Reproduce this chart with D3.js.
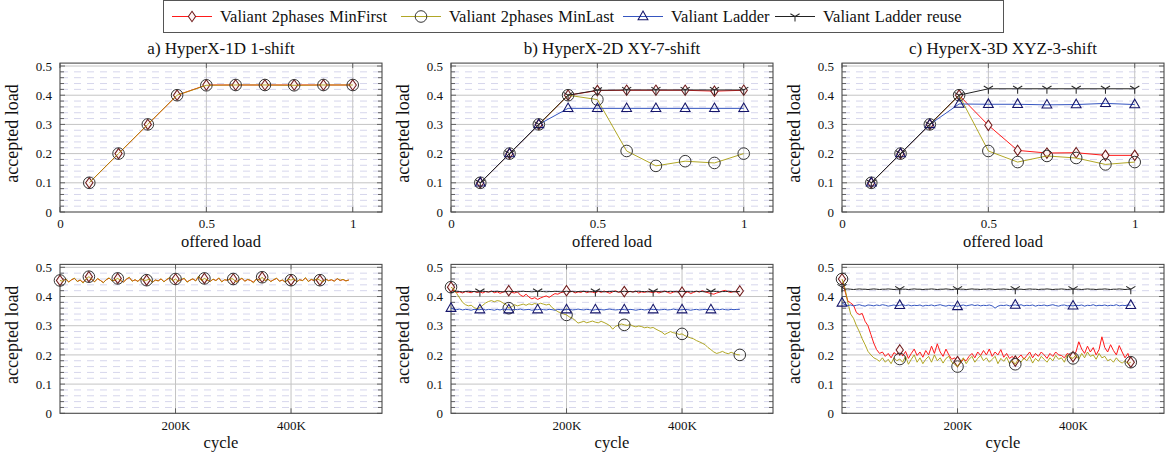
<!DOCTYPE html>
<html><head><meta charset="utf-8">
<script src="https://cdn.jsdelivr.net/npm/d3@7"></script>
<style>body{margin:0;background:#fff}svg{display:block}text{font-family:"Liberation Serif","Times New Roman",serif;fill:#111}</style>
</head><body><svg id="c" width="1168" height="459"></svg>
<script>
// ---------------- DATA ----------------
const seriesNames = ["Valiant 2phases MinFirst","Valiant 2phases MinLast","Valiant Ladder","Valiant Ladder reuse"];
const panelTitles = ["a) HyperX-1D 1-shift","b) HyperX-2D XY-7-shift","c) HyperX-3D XYZ-3-shift"];
const yTickValues = [0,0.1,0.2,0.3,0.4,0.5];
const yTickLabels = ["0","0.1","0.2","0.3","0.4","0.5"];
const xTopTickValues = [0,0.5,1];
const xTopTickLabels = ["0","0.5","1"];
const xBotTickValues = [200000,400000];
const xBotTickLabels = ["200K","400K"];

const offeredLoad = [0.1,0.2,0.3,0.4,0.5,0.6,0.7,0.8,0.9,1.0];
const aMinFirst = [0.1,0.2,0.3,0.4,0.435,0.435,0.435,0.435,0.435,0.435];
const aMinLast  = [0.1,0.2,0.3,0.4,0.434,0.435,0.435,0.434,0.435,0.435];
const bMinFirst = [0.1,0.2,0.3,0.4,0.416,0.417,0.417,0.417,0.414,0.417];
const bMinLast  = [0.1,0.2,0.3,0.4,0.385,0.209,0.158,0.174,0.168,0.200];
const bLadder   = [0.1,0.2,0.3,0.355,0.355,0.355,0.355,0.355,0.355,0.355];
const bLadderReuse = [0.1,0.2,0.3,0.4,0.417,0.418,0.418,0.418,0.418,0.418];
const cMinFirst = [0.1,0.2,0.3,0.4,0.297,0.211,0.202,0.203,0.194,0.194];
const cMinLast  = [0.1,0.2,0.3,0.4,0.209,0.171,0.192,0.185,0.163,0.171];
const cLadder   = [0.1,0.2,0.3,0.37,0.369,0.369,0.367,0.368,0.372,0.368];
const cLadderReuse = [0.1,0.2,0.3,0.4,0.422,0.422,0.422,0.422,0.422,0.422];

// time series: one sample every 5K cycles, 0 .. 500K
const cycleStep = 5000;
const aTMinFirst = [0.455,0.453,0.460,0.450,0.457,0.462,0.452,0.456,0.448,0.459,
 0.468,0.458,0.451,0.461,0.455,0.448,0.457,0.463,0.454,0.456,
 0.462,0.454,0.450,0.459,0.465,0.453,0.457,0.452,0.462,0.455,
 0.456,0.459,0.449,0.456,0.454,0.460,0.451,0.458,0.464,0.455,
 0.460,0.453,0.457,0.462,0.450,0.456,0.460,0.454,0.468,0.455,
 0.462,0.456,0.452,0.459,0.455,0.463,0.451,0.457,0.456,0.460,
 0.460,0.450,0.456,0.462,0.453,0.458,0.455,0.449,0.460,0.456,
 0.466,0.455,0.459,0.452,0.457,0.462,0.453,0.456,0.450,0.459,
 0.456,0.461,0.451,0.457,0.455,0.463,0.452,0.458,0.455,0.460,
 0.456,0.451,0.459,0.455,0.457,0.453,0.461,0.455,0.458,0.454,
 0.456];
const aTMinLast = [0.455,0.452,0.461,0.449,0.458,0.463,0.451,0.457,0.446,0.460,
 0.468,0.459,0.450,0.462,0.455,0.447,0.458,0.464,0.453,0.457,
 0.462,0.455,0.449,0.460,0.466,0.452,0.458,0.451,0.463,0.455,
 0.456,0.460,0.448,0.457,0.453,0.461,0.450,0.459,0.465,0.454,
 0.460,0.452,0.458,0.463,0.449,0.456,0.461,0.453,0.470,0.455,
 0.462,0.457,0.451,0.460,0.454,0.464,0.450,0.458,0.455,0.461,
 0.460,0.449,0.457,0.463,0.452,0.459,0.455,0.447,0.461,0.456,
 0.466,0.454,0.460,0.451,0.458,0.463,0.452,0.457,0.449,0.460,
 0.456,0.462,0.450,0.458,0.454,0.465,0.451,0.459,0.455,0.461,
 0.456,0.450,0.460,0.454,0.458,0.452,0.462,0.455,0.459,0.453,
 0.457];
const bTMinFirst = [0.432,0.418,0.414,0.416,0.412,0.417,0.415,0.413,0.418,0.414,
 0.416,0.412,0.417,0.415,0.419,0.413,0.416,0.411,0.415,0.418,
 0.420,0.414,0.412,0.416,0.405,0.400,0.408,0.398,0.392,0.396,
 0.390,0.395,0.399,0.402,0.397,0.404,0.410,0.408,0.413,0.416,
 0.420,0.415,0.418,0.412,0.416,0.414,0.419,0.413,0.417,0.415,
 0.412,0.418,0.414,0.419,0.415,0.411,0.416,0.420,0.414,0.417,
 0.417,0.413,0.418,0.415,0.419,0.412,0.416,0.414,0.418,0.415,
 0.413,0.417,0.412,0.416,0.419,0.414,0.411,0.415,0.418,0.413,
 0.415,0.412,0.416,0.410,0.414,0.418,0.415,0.420,0.416,0.413,
 0.410,0.408,0.412,0.415,0.419,0.421,0.416,0.414,0.418,0.415,
 0.419];
const bTMinLast = [0.432,0.425,0.410,0.395,0.380,0.372,0.368,0.370,0.362,0.358,
 0.362,0.370,0.378,0.383,0.386,0.382,0.386,0.384,0.378,0.373,
 0.360,0.365,0.372,0.368,0.371,0.374,0.370,0.375,0.372,0.376,
 0.373,0.377,0.374,0.371,0.374,0.362,0.355,0.348,0.344,0.340,
 0.337,0.330,0.326,0.318,0.309,0.312,0.315,0.310,0.313,0.316,
 0.312,0.310,0.315,0.311,0.306,0.300,0.288,0.298,0.302,0.306,
 0.303,0.301,0.304,0.299,0.296,0.299,0.297,0.293,0.295,0.292,
 0.294,0.288,0.283,0.278,0.270,0.275,0.280,0.276,0.274,0.270,
 0.272,0.266,0.262,0.258,0.255,0.249,0.245,0.240,0.235,0.225,
 0.218,0.210,0.205,0.208,0.212,0.207,0.204,0.209,0.205,0.201,
 0.200];
const bTLadder = [0.360,0.356,0.355,0.357,0.354,0.356,0.355,0.353,0.356,0.355,
 0.355,0.357,0.354,0.356,0.355,0.353,0.356,0.354,0.357,0.355,
 0.355,0.354,0.356,0.355,0.357,0.354,0.355,0.356,0.353,0.355,
 0.355,0.357,0.355,0.354,0.356,0.355,0.353,0.356,0.355,0.354,
 0.355,0.356,0.354,0.355,0.357,0.355,0.354,0.356,0.355,0.353,
 0.355,0.356,0.355,0.354,0.356,0.357,0.355,0.354,0.355,0.356,
 0.355,0.354,0.356,0.355,0.353,0.355,0.356,0.354,0.355,0.357,
 0.355,0.356,0.354,0.355,0.356,0.354,0.355,0.357,0.355,0.354,
 0.355,0.356,0.355,0.353,0.355,0.356,0.354,0.355,0.356,0.355,
 0.355,0.354,0.356,0.355,0.357,0.355,0.354,0.356,0.355,0.356,
 0.356];
const bTLadderReuse = [0.413,0.417,0.418,0.417,0.416,0.417,0.418,0.417,0.417,0.416,
 0.417,0.418,0.417,0.416,0.417,0.417,0.418,0.417,0.416,0.417,
 0.418,0.417,0.417,0.416,0.417,0.418,0.417,0.417,0.416,0.417,
 0.417,0.418,0.417,0.416,0.417,0.417,0.418,0.417,0.416,0.417,
 0.418,0.417,0.417,0.416,0.417,0.418,0.417,0.417,0.416,0.417,
 0.417,0.418,0.417,0.416,0.417,0.417,0.418,0.417,0.416,0.417,
 0.418,0.417,0.417,0.416,0.417,0.418,0.417,0.417,0.416,0.417,
 0.417,0.418,0.417,0.416,0.417,0.417,0.418,0.417,0.416,0.417,
 0.418,0.417,0.417,0.416,0.417,0.418,0.417,0.417,0.416,0.417,
 0.417,0.418,0.417,0.416,0.417,0.417,0.418,0.417,0.416,0.417,
 0.417];
const cTMinFirst = [0.460,0.420,0.385,0.378,0.370,0.345,0.338,0.342,0.315,0.300,
 0.270,0.240,0.218,0.205,0.210,0.195,0.205,0.190,0.208,0.200,
 0.217,0.196,0.212,0.188,0.205,0.220,0.198,0.210,0.192,0.215,
 0.200,0.230,0.205,0.238,0.210,0.195,0.220,0.200,0.185,0.190,
 0.177,0.172,0.185,0.180,0.195,0.205,0.190,0.210,0.198,0.215,
 0.200,0.220,0.195,0.210,0.200,0.218,0.192,0.205,0.188,0.195,
 0.179,0.190,0.200,0.185,0.198,0.210,0.190,0.205,0.195,0.210,
 0.200,0.188,0.205,0.195,0.210,0.200,0.198,0.190,0.205,0.200,
 0.194,0.210,0.245,0.220,0.205,0.230,0.210,0.225,0.200,0.218,
 0.262,0.225,0.210,0.235,0.215,0.200,0.232,0.210,0.190,0.205,
 0.175];
const cTMinLast = [0.460,0.430,0.380,0.340,0.325,0.300,0.280,0.255,0.235,0.212,
 0.200,0.190,0.185,0.178,0.190,0.175,0.185,0.170,0.190,0.180,
 0.186,0.175,0.195,0.168,0.185,0.200,0.175,0.190,0.170,0.185,
 0.195,0.175,0.200,0.180,0.190,0.172,0.188,0.195,0.175,0.168,
 0.160,0.175,0.190,0.170,0.185,0.195,0.175,0.188,0.198,0.180,
 0.190,0.175,0.185,0.195,0.170,0.188,0.178,0.192,0.170,0.180,
 0.168,0.185,0.175,0.190,0.180,0.195,0.172,0.188,0.178,0.195,
 0.185,0.175,0.190,0.180,0.198,0.185,0.190,0.175,0.200,0.192,
 0.188,0.200,0.185,0.205,0.190,0.210,0.195,0.200,0.185,0.205,
 0.190,0.195,0.180,0.185,0.175,0.190,0.178,0.172,0.180,0.170,
 0.175];
const cTLadder = [0.378,0.372,0.369,0.371,0.368,0.370,0.372,0.369,0.367,0.371,
 0.370,0.368,0.371,0.369,0.372,0.370,0.367,0.369,0.371,0.368,
 0.370,0.372,0.369,0.371,0.368,0.370,0.369,0.371,0.367,0.370,
 0.369,0.371,0.368,0.370,0.372,0.369,0.367,0.370,0.368,0.369,
 0.366,0.369,0.371,0.368,0.370,0.372,0.369,0.371,0.368,0.370,
 0.369,0.371,0.368,0.360,0.367,0.370,0.369,0.371,0.368,0.370,
 0.371,0.369,0.372,0.368,0.370,0.369,0.371,0.367,0.370,0.369,
 0.371,0.368,0.370,0.372,0.369,0.367,0.370,0.371,0.368,0.369,
 0.368,0.370,0.369,0.371,0.367,0.370,0.369,0.372,0.368,0.370,
 0.369,0.371,0.368,0.370,0.369,0.372,0.368,0.370,0.369,0.371,
 0.370];
const cTLadderReuse = [0.432,0.425,0.426,0.425,0.424,0.425,0.426,0.425,0.425,0.424,
 0.425,0.426,0.425,0.424,0.425,0.425,0.426,0.425,0.424,0.425,
 0.425,0.425,0.425,0.424,0.425,0.426,0.425,0.425,0.424,0.425,
 0.425,0.426,0.425,0.424,0.425,0.425,0.426,0.425,0.424,0.425,
 0.425,0.425,0.425,0.424,0.425,0.426,0.425,0.425,0.424,0.425,
 0.425,0.426,0.425,0.424,0.425,0.425,0.426,0.425,0.424,0.425,
 0.425,0.425,0.425,0.424,0.425,0.426,0.425,0.425,0.424,0.425,
 0.425,0.426,0.425,0.424,0.425,0.425,0.426,0.425,0.424,0.425,
 0.425,0.425,0.425,0.424,0.425,0.426,0.425,0.425,0.424,0.425,
 0.425,0.426,0.425,0.424,0.425,0.425,0.426,0.425,0.424,0.425,
 0.425];

// ---------------- STYLE / LAYOUT ----------------
const styles = [
  {color:"#ff1a1a", opacity:1,    mark:"diamond",  mstroke:"#6e1a1a"},
  {color:"#a39800", opacity:0.85, mark:"circle",   mstroke:"#333333"},
  {color:"#3555c0", opacity:1,    mark:"triangle", mstroke:"#15156a"},
  {color:"#222222", opacity:1,    mark:"tri",      mstroke:"#2a2a2a"}
];
const svg = d3.select("#c");
const panelLeft = [60, 451, 842], panelW = 322;
const rowBox = [{top:63.1, bottom:212}, {top:264.4, bottom:413.3}];
const yDomain = [0, 0.51];

function markerPath(type){
  if(type==="diamond") return "M0,-5.2L3.6,0L0,5.2L-3.6,0Z";
  if(type==="triangle") return "M0,-5.4L4.9,3.2L-4.9,3.2Z";
  if(type==="tri") return "M0,0L0,5M0,0L-4.6,-2.8M0,0L4.6,-2.8";
  return null;
}
function drawMarker(g, st, x, y){
  if(st.mark==="circle"){
    g.append("circle").attr("cx",x).attr("cy",y).attr("r",5.8)
      .attr("fill","none").attr("stroke",st.mstroke).attr("stroke-width",1);
  } else {
    g.append("path").attr("d",markerPath(st.mark)).attr("transform",`translate(${x},${y})`)
      .attr("fill", st.mark==="diamond" ? "#fff4f4" : "none")
      .attr("stroke",st.mstroke).attr("stroke-width",1.05);
  }
}
function drawSeries(g, xs, ys, xS, yS, st, marks){
  const line = d3.line().x((d,i)=>xS(xs[i])).y(d=>yS(d));
  g.append("path").attr("d",line(ys)).attr("fill","none")
    .attr("stroke",st.color).attr("stroke-opacity",st.opacity).attr("stroke-width",1);
  marks.forEach(i=>drawMarker(g, st, xS(xs[i]), yS(ys[i])));
}
function markIdx(n, every, phase, until){
  const r=[]; for(let i=phase;i<=until && i<n;i+=every) r.push(i); return r;
}

function drawFrame(g, xS, yS, xTicks, xLabels, xTitle){
  const x0=0, x1=panelW, y0=yS(0), y1=yS.range()[1];
  const minor = d3.range(1,26).map(k=>k*0.02).filter(v=>Math.abs(v*10-Math.round(v*10))>1e-6);
  minor.forEach(v=>{
    g.append("line").attr("x1",x0).attr("x2",x1).attr("y1",yS(v)).attr("y2",yS(v))
      .attr("stroke","#d6d6ec").attr("stroke-width",1).attr("stroke-dasharray","7,6").attr("stroke-dashoffset",-1);
  });
  yTickValues.filter(v=>v>0).forEach(v=>{
    g.append("line").attr("x1",x0).attr("x2",x1).attr("y1",yS(v)).attr("y2",yS(v))
      .attr("stroke","#c4c4c4").attr("stroke-width",1);
  });
  xTicks.filter(v=>v>0).forEach(v=>{
    g.append("line").attr("x1",xS(v)).attr("x2",xS(v)).attr("y1",y0).attr("y2",y1)
      .attr("stroke","#c4c4c4").attr("stroke-width",1);
  });
  minor.concat(yTickValues).forEach(v=>{
    const len = yTickValues.includes(v)?5:4;
    g.append("line").attr("x1",x0).attr("x2",x0+len).attr("y1",yS(v)).attr("y2",yS(v)).attr("stroke","#555").attr("stroke-width",0.9);
    g.append("line").attr("x1",x1-len).attr("x2",x1).attr("y1",yS(v)).attr("y2",yS(v)).attr("stroke","#555").attr("stroke-width",0.9);
  });
  xTicks.forEach(v=>{
    g.append("line").attr("x1",xS(v)).attr("x2",xS(v)).attr("y1",y0).attr("y2",y0-5).attr("stroke","#555").attr("stroke-width",0.9);
    g.append("line").attr("x1",xS(v)).attr("x2",xS(v)).attr("y1",y1).attr("y2",y1+5).attr("stroke","#555").attr("stroke-width",0.9);
  });
  g.append("rect").attr("x",x0).attr("y",y1).attr("width",x1-x0).attr("height",y0-y1)
    .attr("fill","none").attr("stroke","#4a4a4a").attr("stroke-width",1.1);
  const ay = g.append("g").call(d3.axisLeft(yS).tickValues(yTickValues).tickSize(0).tickPadding(8)
      .tickFormat((d,i)=>yTickLabels[i]));
  ay.select(".domain").remove();
  ay.selectAll("text").attr("font-family","'DejaVu Serif',serif").style("font-size","13px").attr("fill","#222");
  const ax = g.append("g").attr("transform",`translate(0,${y0})`)
    .call(d3.axisBottom(xS).tickValues(xTicks).tickSize(0).tickPadding(7).tickFormat((d,i)=>xLabels[i]));
  ax.select(".domain").remove();
  ax.selectAll("text").attr("font-family","'DejaVu Serif',serif").style("font-size","13px").attr("fill","#222");
  g.append("text").attr("x",panelW/2).attr("y",y0+35).attr("text-anchor","middle").style("font-size","16.5px").text(xTitle);
  g.append("text").attr("transform",`translate(-42,${(y0+y1)/2-4}) rotate(-90)`).attr("text-anchor","middle")
    .style("font-size","18px").text("accepted load");
}

const topSets = [
  [aMinFirst, aMinLast, null, null],
  [bMinFirst, bMinLast, bLadder, bLadderReuse],
  [cMinFirst, cMinLast, cLadder, cLadderReuse]
];
const botSets = [
  [aTMinFirst, aTMinLast, null, null],
  [bTMinFirst, bTMinLast, bTLadder, bTLadderReuse],
  [cTMinFirst, cTMinLast, cTLadder, cTLadderReuse]
];
const botMarks = [
  [[10,0,90],[10,0,90],null,null],
  [[20,0,100],[20,0,100],[10,0,90],[20,10,90]],
  [[20,0,100],[20,0,100],[20,0,100],[20,0,100]]
];

for(let p=0;p<3;p++){
  const xT = d3.scaleLinear().domain([0,1.1]).range([0,panelW]);
  const yT = d3.scaleLinear().domain(yDomain).range([rowBox[0].bottom,rowBox[0].top]);
  const gT = svg.append("g").attr("transform",`translate(${panelLeft[p]},0)`);
  drawFrame(gT, xT, yT, xTopTickValues, xTopTickLabels, "offered load");
  gT.append("text").attr("x",panelW/2).attr("y",54).attr("text-anchor","middle").style("font-size","17px").text(panelTitles[p]);
  topSets[p].forEach((ys,s)=>{
    if(!ys) return;
    drawSeries(gT, offeredLoad, ys, xT, yT, styles[s], d3.range(ys.length));
  });
  const xB = d3.scaleLinear().domain([0,557500]).range([0,panelW]);
  const yB = d3.scaleLinear().domain(yDomain).range([rowBox[1].bottom,rowBox[1].top]);
  const gB = svg.append("g").attr("transform",`translate(${panelLeft[p]},0)`);
  drawFrame(gB, xB, yB, xBotTickValues, xBotTickLabels, "cycle");
  botSets[p].forEach((ys,s)=>{
    if(!ys) return;
    const cyc = ys.map((d,i)=>i*cycleStep);
    const m = botMarks[p][s];
    drawSeries(gB, cyc, ys, xB, yB, styles[s], markIdx(ys.length, m[0], m[1], m[2]));
  });
}

// ---------------- LEGEND ----------------
const lg = svg.append("g");
lg.append("rect").attr("x",163.5).attr("y",0.5).attr("width",840).attr("height",32)
  .attr("fill","#fff").attr("stroke","#555").attr("stroke-width",1);
const legendX = [172, 401, 623, 775];
seriesNames.forEach((name,s)=>{
  const x = legendX[s], y = 16.5;
  lg.append("line").attr("x1",x).attr("x2",x+40).attr("y1",y).attr("y2",y)
    .attr("stroke",styles[s].color).attr("stroke-opacity",styles[s].opacity).attr("stroke-width",1);
  drawMarker(lg, styles[s], x+20, y);
  lg.append("text").attr("x",x+48).attr("y",y+5.5).style("font-size","16.5px").style("word-spacing","1px").text(name);
});
</script></body></html>
